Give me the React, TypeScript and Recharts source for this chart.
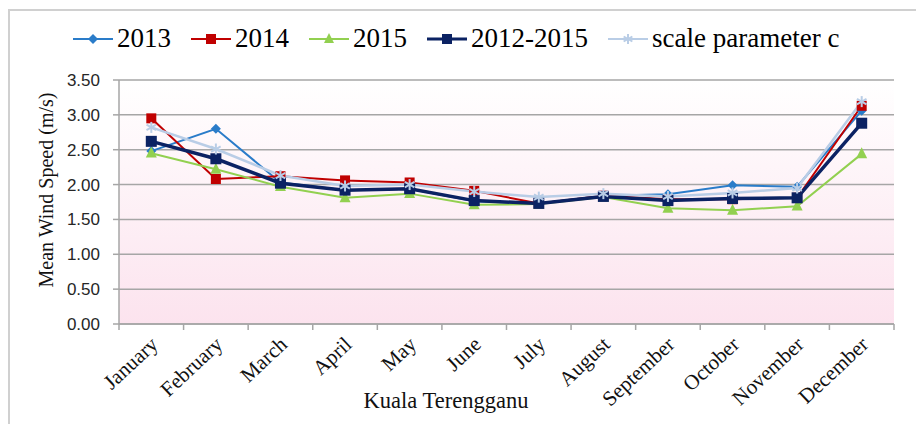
import { LineChart, Line, XAxis, YAxis, CartesianGrid } from "recharts";

const MONTHS = [
  "January", "February", "March", "April", "May", "June",
  "July", "August", "September", "October", "November", "December",
];
const Y2013 = [2.48, 2.8, 2.03, 1.92, 1.94, 1.76, 1.73, 1.84, 1.86, 1.99, 1.97, 3.06];
const Y2014 = [2.95, 2.08, 2.12, 2.06, 2.03, 1.91, 1.73, 1.84, 1.79, 1.79, 1.81, 3.13];
const Y2015 = [2.45, 2.22, 1.97, 1.81, 1.87, 1.71, 1.72, 1.82, 1.66, 1.63, 1.69, 2.44];
const Y2012_2015 = [2.62, 2.37, 2.02, 1.92, 1.94, 1.77, 1.73, 1.83, 1.77, 1.8, 1.81, 2.88];
const SCALE_C = [2.82, 2.51, 2.13, 1.98, 2.0, 1.9, 1.82, 1.87, 1.83, 1.88, 1.95, 3.19];
const Y_TICKS = [0, 0.5, 1, 1.5, 2, 2.5, 3, 3.5];

const data = MONTHS.map((month, i) => ({
  month,
  y2013: Y2013[i],
  y2014: Y2014[i],
  y2015: Y2015[i],
  y1215: Y2012_2015[i],
  scaleC: SCALE_C[i],
}));

const C2013 = "#2a7cc9";
const C2014 = "#c00000";
const C2015 = "#92d050";
const C1215 = "#0b2263";
const CSCALE = "#b9cde6";

const SERIF = '"Liberation Serif", "Times New Roman", serif';
const SANS = '"Liberation Sans", Arial, sans-serif';
const GRID = "#a6a6a6";
const HALF_BAND = 32.3;

// marker shapes, used by both the lines and the legend
const diamond = (cx: number, cy: number, r: number, color: string, key?: any) => (
  <path key={key} d={`M${cx},${cy - r}L${cx + r},${cy}L${cx},${cy + r}L${cx - r},${cy}Z`} fill={color} />
);
const square = (cx: number, cy: number, s: number, color: string, key?: any) => (
  <rect key={key} x={cx - s / 2} y={cy - s / 2} width={s} height={s} fill={color} />
);
const triangle = (cx: number, cy: number, s: number, color: string, key?: any) => (
  <path key={key} d={`M${cx},${cy - s * 0.6}L${cx + s / 2},${cy + s * 0.4}L${cx - s / 2},${cy + s * 0.4}Z`} fill={color} />
);
const star = (cx: number, cy: number, r: number, color: string, key?: any) => {
  const d = r * 0.87;
  const h = r * 0.5;
  return (
    <g key={key} stroke={color} strokeWidth={2}>
      <line x1={cx} y1={cy - r} x2={cx} y2={cy + r} />
      <line x1={cx - d} y1={cy - h} x2={cx + d} y2={cy + h} />
      <line x1={cx - d} y1={cy + h} x2={cx + d} y2={cy - h} />
    </g>
  );
};

const dotOf = (draw: (cx: number, cy: number, s: number, c: string, k?: any) => any, size: number, color: string) =>
  (props: any) => {
    const { cx, cy, index } = props;
    if (cx == null || cy == null) return <g key={index} />;
    return draw(cx, cy, size, color, index);
  };

const MonthTick = (props: any) => {
  const { x, y, payload, index } = props;
  const ax = x + 8;
  const ay = y + 22;
  return (
    <g>
      <line x1={x - HALF_BAND} x2={x - HALF_BAND} y1={y} y2={y + 6} stroke={GRID} strokeWidth={1.5} />
      {index === MONTHS.length - 1 && (
        <line x1={x + HALF_BAND} x2={x + HALF_BAND} y1={y} y2={y + 6} stroke={GRID} strokeWidth={1.5} />
      )}
      <g transform={`translate(${ax}, ${ay}) rotate(-43)`}>
        <text x={0} y={0} textAnchor="end" fontFamily={SERIF} fontSize={21} fill="#111">
          {payload.value}
        </text>
      </g>
    </g>
  );
};

const LEGEND = [
  { name: "2013", color: C2013, width: 2, marker: (c: string) => diamond(20, 10, 5, c) },
  { name: "2014", color: C2014, width: 2, marker: (c: string) => square(20, 10, 10, c) },
  { name: "2015", color: C2015, width: 2, marker: (c: string) => triangle(20, 10, 10, c) },
  { name: "2012-2015", color: C1215, width: 3, marker: (c: string) => square(20, 10, 10, c) },
  { name: "scale parameter c", color: CSCALE, width: 2, marker: (c: string) => star(20, 10, 5, c) },
];

export default function App() {
  return (
    <div style={{ position: "fixed", left: 0, top: 0, width: 916, height: 424, background: "#fff", overflow: "hidden" }}>
      <div
        style={{
          position: "absolute", left: 8, top: 9, width: 940, height: 440,
          border: "2px solid #d0d0d0", boxSizing: "border-box",
        }}
      />
      <div
        style={{
          position: "absolute", left: 73, top: 23, display: "flex", alignItems: "center",
          fontFamily: SERIF, fontSize: 27, color: "#000", whiteSpace: "nowrap",
        }}
      >
        {LEGEND.map((it) => (
          <div key={it.name} style={{ display: "flex", alignItems: "center", marginRight: 20 }}>
            <svg width={40} height={20}>
              <line x1={0} y1={10} x2={40} y2={10} stroke={it.color} strokeWidth={it.width} />
              {it.marker(it.color)}
            </svg>
            <span style={{ marginLeft: 4 }}>{it.name}</span>
          </div>
        ))}
      </div>
      <div style={{ position: "absolute", left: 0, top: 0 }}>
        <LineChart width={916} height={424} data={data} margin={{ top: 80, right: 22, left: 19, bottom: 10 }}>
          <defs>
            <linearGradient id="plotBg" x1="0" y1="0" x2="0" y2="1">
              <stop offset="0%" stopColor="#ffffff" />
              <stop offset="100%" stopColor="#fce3ee" />
            </linearGradient>
          </defs>
          <CartesianGrid vertical={false} stroke={GRID} strokeWidth={1.5} fill="url(#plotBg)" fillOpacity={1} />
          <XAxis
            dataKey="month"
            height={90}
            padding={{ left: HALF_BAND, right: HALF_BAND }}
            axisLine={{ stroke: GRID, strokeWidth: 1.5 }}
            tickLine={false}
            tickSize={0}
            tickMargin={0}
            interval={0}
            tick={<MonthTick />}
            label={{
              content: () => (
                <text x={446} y={400} textAnchor="middle" dominantBaseline="central" fontFamily={SERIF} fontSize={22.5} fill="#111">
                  Kuala Terengganu
                </text>
              ),
            }}
          />
          <YAxis
            width={100}
            domain={[0, 3.5]}
            ticks={Y_TICKS}
            tickFormatter={(v: number) => v.toFixed(2)}
            axisLine={{ stroke: GRID, strokeWidth: 1.5 }}
            tickLine={{ stroke: GRID, strokeWidth: 1.5 }}
            tickSize={6}
            tickMargin={13}
            tick={{ fontFamily: SANS, fontSize: 17, fill: "#262626" }}
            label={{
              content: () => (
                <text
                  x={46}
                  y={190}
                  transform="rotate(-90, 46, 190)"
                  textAnchor="middle"
                  dominantBaseline="central"
                  fontFamily={SERIF}
                  fontSize={20}
                  fill="#111"
                >
                  Mean Wind Speed (m/s)
                </text>
              ),
            }}
          />
          <Line dataKey="y2013" stroke={C2013} strokeWidth={2} dot={dotOf(diamond, 5, C2013)} isAnimationActive={false} />
          <Line dataKey="y2014" stroke={C2014} strokeWidth={2} dot={dotOf(square, 10, C2014)} isAnimationActive={false} />
          <Line dataKey="y2015" stroke={C2015} strokeWidth={2} dot={dotOf(triangle, 11, C2015)} isAnimationActive={false} />
          <Line dataKey="y1215" stroke={C1215} strokeWidth={3.5} dot={dotOf(square, 11, C1215)} isAnimationActive={false} />
          <Line dataKey="scaleC" stroke={CSCALE} strokeWidth={2.5} dot={dotOf(star, 5.5, CSCALE)} isAnimationActive={false} />
        </LineChart>
      </div>
    </div>
  );
}
